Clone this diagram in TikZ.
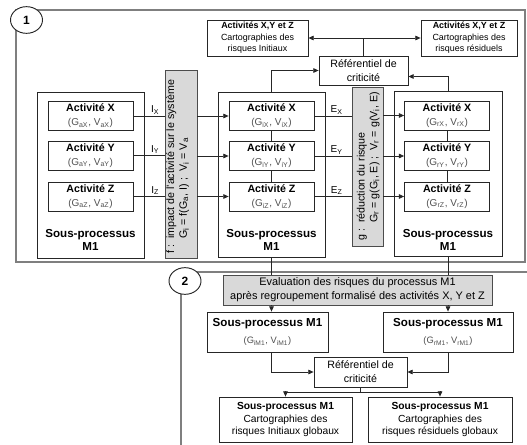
\documentclass[tikz,border=0pt]{standalone}
\usepackage{fontspec}
\setmainfont{Liberation Sans}
\usetikzlibrary{arrows.meta,calc,shapes.geometric}
\definecolor{barfill}{HTML}{D9D9D9}
\definecolor{subtxt}{HTML}{505050}
\definecolor{framecol}{HTML}{7F7F7F}
\newcommand\fsz[2]{\fontsize{#1}{#2}\selectfont}
\newcommand\actxt[2]{\textbf{Activité #1}\\{\color{subtxt}\fsz{7.5}{9}(G\textsubscript{#2}, V\textsubscript{#2})}}
\begin{document}
\begin{tikzpicture}[x=0.75pt,y=-0.75pt,
  box/.style={draw=black!85,fill=white,line width=0.6pt,inner sep=0pt,align=center},
  act/.style={box,minimum width=63.75pt,minimum height=21.75pt,font=\fsz{8}{10.5}},
  subp/.style={box,minimum width=80.25pt,minimum height=123.75pt},
  bar/.style={draw=black!70,fill=barfill,line width=0.6pt,inner sep=0pt},
  secframe/.style={draw=framecol,line width=0.9pt},
  num/.style={draw=black!85,fill=white,ellipse,line width=0.7pt,minimum width=24pt,minimum height=20pt,inner sep=0pt,font=\bfseries\fsz{9}{10}},
  conn/.style={draw=black!85,line width=0.6pt},
  arr/.style={conn,-{Triangle[length=4pt,width=3.5pt]}},
  darr/.style={conn,{Triangle[length=4pt,width=3.5pt]}-{Triangle[length=4pt,width=3.5pt]}},
  lab/.style={font=\fsz{7.5}{9},inner sep=1pt},
  splab/.style={align=center,font=\bfseries\fsz{8.7}{10}},
  bartext/.style={rotate=90,anchor=west,inner sep=0pt,font=\fsz{8}{9.5}}
]
\useasboundingbox (0,0) rectangle (527,445);

% section frames
\draw[secframe] (16,10) rectangle (525,262);
\draw[secframe] (527,272) -- (181,272) -- (181,445);
\node[num] (n1) at (26.5,20) {1};
\node[num] (n2) at (185,281) {2};

% top boxes
\node[box,minimum width=75.75pt,minimum height=27pt,font=\fsz{6.7}{8.6}] (topL) at (257.5,38)
  {\textbf{Activités X,Y et Z}\\Cartographies des\\risques Initiaux};
\node[box,minimum width=72pt,minimum height=27pt,font=\fsz{6.7}{8.6}] (topR) at (469,38)
  {\textbf{Activités X,Y et Z}\\Cartographies des\\risques résiduels};
\node[box,minimum width=66.75pt,minimum height=21.75pt,font=\fsz{8}{10.5}] (ref1) at (363.5,70.5)
  {Référentiel de\\criticité};

% sub-process boxes
\node[subp,minimum width=80.25pt,minimum height=124.5pt] (sp1) at (90.5,175) {};
\node[subp] (sp2) at (271.5,174.5) {};
\node[subp,minimum width=81pt] (sp3) at (448,173.5) {};
\node[splab] at (90.5,240) {Sous-processus\\M1};
\node[splab] at (271.5,240) {Sous-processus\\M1};
\node[splab] at (448,240) {Sous-processus\\M1};

% activities
\node[act] (a1X) at (90.5,116) {\actxt{X}{aX}};
\node[act] (a1Y) at (90.5,155.5) {\actxt{Y}{aY}};
\node[act] (a1Z) at (90.5,196.5) {\actxt{Z}{aZ}};
\node[act] (a2X) at (271.5,116) {\actxt{X}{iX}};
\node[act] (a2Y) at (271.5,156) {\actxt{Y}{iY}};
\node[act] (a2Z) at (271.5,196.5) {\actxt{Z}{iZ}};
\node[act] (a3X) at (447,115.5) {\actxt{X}{rX}};
\node[act] (a3Y) at (447,156) {\actxt{Y}{rY}};
\node[act] (a3Z) at (447,196.5) {\actxt{Z}{rZ}};

% function bars
\node[bar,minimum width=24pt,minimum height=141pt] (fbar) at (181,164) {};
\node[bartext] (ftext) at (178,254) {\begin{tabular}{@{}l@{\ \ }l@{}}f :&impact de l'activité sur le système\\
  &G\textsubscript{i} = f(G\textsubscript{a}, I) ;\ \ V\textsubscript{i} = V\textsubscript{a}\end{tabular}};
\node[bar,minimum width=23.25pt,minimum height=119.25pt] (gbar) at (367.5,166.5) {};
\node[bartext] (gtext) at (368.5,241) {\begin{tabular}{@{}l@{\ \ }l@{}}g :&réduction du risque\\
  &G\textsubscript{r} = g(G\textsubscript{i}, E) ;\ \ V\textsubscript{r} = g(V\textsubscript{i}, E)\end{tabular}};

% I connectors
\draw[conn] (a1X.east) -- node[lab,above,pos=0.7]{I\textsubscript{X}} (a1X.east -| fbar.west);
\draw[conn] (a1Y.east) -- node[lab,above,pos=0.7]{I\textsubscript{Y}} (a1Y.east -| fbar.west);
\draw[conn] (a1Z.east) -- node[lab,above,pos=0.7]{I\textsubscript{Z}} (a1Z.east -| fbar.west);
\draw[arr] (a2X.west -| fbar.east) -- (a2X.west);
\draw[arr] (a2Y.west -| fbar.east) -- (a2Y.west);
\draw[arr] (a2Z.west -| fbar.east) -- (a2Z.west);
% E connectors
\draw[conn] (a2X.east) -- node[lab,above,pos=0.6]{E\textsubscript{X}} (a2X.east -| gbar.west);
\draw[conn] (a2Y.east) -- node[lab,above,pos=0.6]{E\textsubscript{Y}} (a2Y.east -| gbar.west);
\draw[conn] (a2Z.east) -- node[lab,above,pos=0.6]{E\textsubscript{Z}} (a2Z.east -| gbar.west);
\draw[arr] (a3X.west -| gbar.east) -- (a3X.west);
\draw[arr] (a3Y.west -| gbar.east) -- (a3Y.west);
\draw[arr] (a3Z.west -| gbar.east) -- (a3Z.west);
% vertical links inside
\draw[conn] (a2X.south) -- (a2Y.north);
\draw[conn] (a2Y.south) -- (a2Z.north);
\draw[conn] (a3X.south) -- (a3Y.north);
\draw[conn] (a3Y.south) -- (a3Z.north);

% to referentiel
\draw[arr] (sp2.north) |- (ref1.west);
\draw[arr] (sp3.north) |- ($(ref1.east)+(0,6)$);
\draw[darr] (topL.east) -- (topR.west);
\draw[conn] (ref1.north) -- (ref1.north |- topL.east);

% section 2
\node[box,fill=barfill,draw=black!70,minimum width=201.75pt,minimum height=22.5pt,font=\fsz{8.2}{10.5}] (eval) at (357.5,290)
  {Evaluation des risques du processus M1\\après regroupement formalisé des activités X, Y et Z};
\node[box,minimum width=90.75pt,minimum height=30pt] (spL) at (267.5,332)
  {\textbf{\fsz{8.7}{10}Sous-processus M1}\\[1pt]{\color{subtxt}\fsz{7}{8}(G\textsubscript{iM1}, V\textsubscript{iM1})}};
\node[box,minimum width=97.5pt,minimum height=30pt] (spR) at (448,332)
  {\textbf{\fsz{8.7}{10}Sous-processus M1}\\[1pt]{\color{subtxt}\fsz{7}{8}(G\textsubscript{rM1}, V\textsubscript{rM1})}};
\node[box,minimum width=69.75pt,minimum height=22.5pt,font=\fsz{8}{10.5}] (ref2) at (360.5,372)
  {Référentiel de\\criticité};
\node[box,minimum width=99.75pt,minimum height=33.75pt,font=\fsz{7.7}{9.4}] (botL) at (285.5,419.5)
  {\textbf{Sous-processus M1}\\Cartographies des\\risques Initiaux globaux};
\node[box,minimum width=108pt,minimum height=33.75pt,font=\fsz{7.7}{9.4}] (botR) at (440,419.5)
  {\textbf{Sous-processus M1}\\Cartographies des\\risques résiduels globaux};

\draw[conn] (sp2.south) -- (sp2.south |- eval.north);
\draw[conn] (sp3.south) -- (sp3.south |- eval.north);
\draw[arr] (sp2.south |- eval.south) -- (sp2.south |- spL.north);
\draw[arr] (sp3.south |- eval.south) -- (sp3.south |- spR.north);
\draw[arr] (sp2.south |- spL.south) |- (ref2.west);
\draw[arr] (sp3.south |- spR.south) |- (ref2.east);
\draw[conn] (ref2.south) -- ++(0,5) coordinate (j);
\draw[arr] (j) -| (botL.north);
\draw[arr] (j) -| (botR.north);
\end{tikzpicture}
\end{document}
